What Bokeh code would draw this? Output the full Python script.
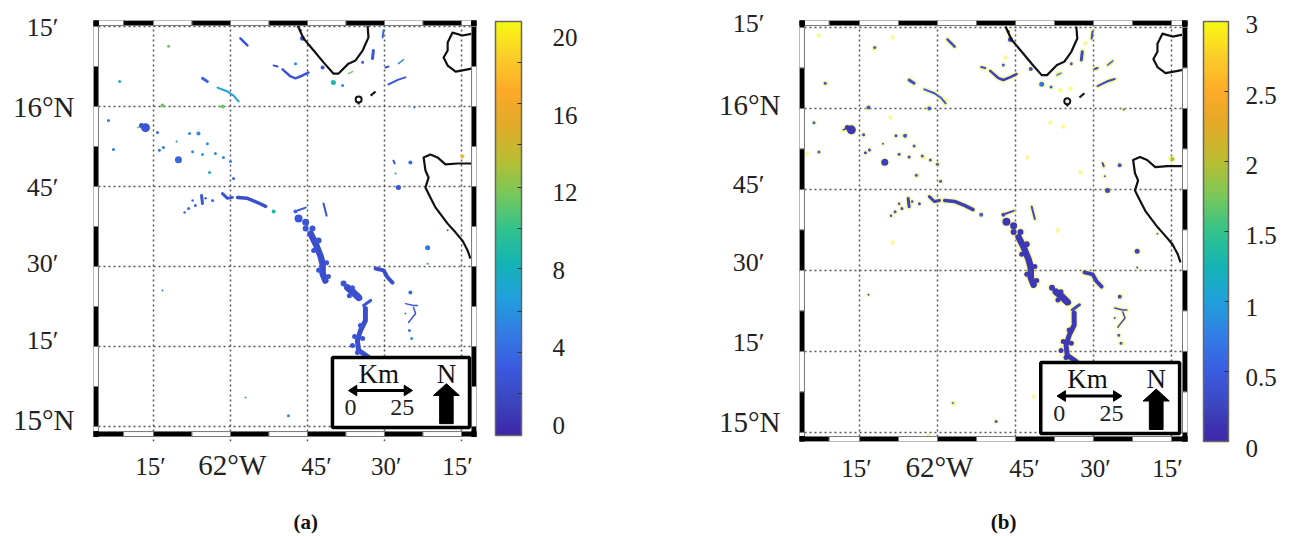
from bokeh.plotting import figure
from bokeh.layouts import row
from bokeh.models import (ColorBar, ColumnDataSource, FixedTicker, Grid, LinearAxis,
                          LinearColorMapper, Range1d)
from bokeh.core.properties import value
from bokeh.embed import file_html
from bokeh.resources import INLINE

SERIF = "Liberation Serif"

# ---------- coastlines (lon, lat) ----------
coast1_lon = [-61.782,-61.763,-61.730,-61.698,-61.666,-61.649,-61.617,-61.594,-61.571,-61.552,-61.555]
coast1_lat = [16.253,16.213,16.175,16.138,16.103,16.103,16.134,16.144,16.175,16.216,16.253]
coast2_lon = [-61.214,-61.247,-61.279,-61.295,-61.295,-61.308,-61.295,-61.269,-61.230,-61.214]
coast2_lat = [16.228,16.222,16.231,16.200,16.175,16.153,16.128,16.109,16.116,16.119]
coast3_lon = [-61.217,-61.263,-61.302,-61.328,-61.351,-61.373,-61.367,-61.357,-61.367,-61.351,-61.334,-61.295,-61.269,-61.247,-61.230,-61.221]
coast3_lat = [15.822,15.822,15.819,15.841,15.850,15.841,15.800,15.778,15.747,15.716,15.684,15.634,15.606,15.581,15.550,15.525]
islet_lon = [-61.545,-61.529]
islet_lat = [16.034,16.047]
ring_lon = [-61.584]
ring_lat = [16.022]

# ---------- elongated features ----------
streak_lon = [
 [-61.968,-61.945],[-61.860,-61.847],[-61.831,-61.805,-61.789,-61.766,-61.747],[-62.091,-62.075],
 [-62.042,-62.010,-61.990,-61.974],[-62.026,-62.010,-61.994],[-61.977,-61.945,-61.912,-61.886],
 [-61.740,-61.724,-61.708,-61.701,-61.701,-61.692],[-61.782,-61.756],[-61.698,-61.688],
 [-61.620,-61.601,-61.584],[-61.545,-61.568],[-61.562,-61.562,-61.578,-61.588,-61.584,-61.555],
 [-61.529,-61.503,-61.490,-61.474],[-61.432,-61.406,-61.393],[-61.406,-61.399,-61.422],
 [-61.536,-61.539],[-61.503,-61.506],[-61.497,-61.487],[-61.455,-61.438],[-61.487,-61.455,-61.432],
 [-61.617,-61.604],[-61.471,-61.467],[-62.302,-62.286],[-62.094,-62.091]]
streak_lat = [
 [16.213,16.191],[16.128,16.125],[16.116,16.094,16.088,16.097,16.106],[16.088,16.078],
 [16.059,16.047,16.034,16.016],[15.728,15.713,15.716],[15.716,15.713,15.700,15.688],
 [15.603,15.572,15.534,15.509,15.478,15.456],[15.675,15.684],[15.697,15.659],
 [15.434,15.419,15.403],[15.394,15.378],[15.369,15.331,15.300,15.269,15.238,15.219],
 [15.494,15.488,15.466,15.450],[15.384,15.378,15.378],[15.372,15.353,15.325],
 [16.175,16.150],[16.238,16.216],[16.122,16.125],[16.134,16.147],[16.069,16.084,16.091],
 [16.103,16.109],[15.831,15.822],[15.934,15.941],[15.722,15.697]]
streak_a = [3,3,3,4,7,3,2.5,2.5,3,3,2.5,3,2.5,2.5,3,3,3,4,3,6,3,12,3,12,3]
streak_b = [.3,.3,.2,.35,.5,.2,.2,.15,.3,.3,.15,.3,.15,.2,.3,.3,.3,.35,.3,.6,.3,.8,.3,.2,.25]
streak_w = [2.5,2,2.5,3,2,3,3.5,6.5,2,2,7,3,5,4,1.5,1.5,3,2,2,1.5,2,1.5,2,1.5,3]

# ---------- compact features ----------
spot_lon = [-61.416,-61.419,-61.412,-61.432,-61.360,-61.360,-61.295,-61.571,-61.701,-61.766,-61.773,-61.789,
 -61.666,-61.636,-61.403,-61.416,-61.464,-61.455,-61.247,-62.276,-62.237,-62.396,-62.380,-62.360,-62.231,
 -62.218,-62.169,-62.133,-62.104,-62.075,-62.175,-62.123,-62.091,-62.049,-62.023,-62.000,-62.068,-61.990,
 -62.221,-62.026,-62.201,-62.114,-62.136,-62.058,-61.860,-61.789,-61.756,-61.779,-61.812,-61.951,-62.221,
 -61.756,-61.734,-61.714,-61.730,-61.688,-61.714,-61.682,-61.633,-61.604,-61.614,-61.578,-61.578,-61.597,
 -61.571,-61.604,-61.588,-62.123,-62.149,-62.081,-62.289]
spot_lat = [15.419,15.300,15.275,15.353,15.559,15.509,15.613,16.138,16.122,16.213,16.238,16.134,
 16.075,16.066,15.997,15.825,15.791,15.747,15.844,15.934,15.919,15.956,15.866,16.078,15.863,
 15.872,15.834,15.916,15.916,15.884,15.891,15.859,15.850,15.853,15.841,15.828,15.794,15.775,
 16.003,16.000,16.188,15.691,15.681,15.706,15.672,15.672,15.619,15.650,15.034,15.091,15.425,
 15.638,15.619,15.581,15.550,15.512,15.488,15.469,15.447,15.434,15.409,15.400,15.316,15.281,
 15.275,15.253,15.231,15.706,15.669,15.713,15.941]
spot_a = [4,5,6,5,5,5,4,3,3,3,3,6,9,6,4,4,6,3,18,3,4,5,5,8,5,5,4,6,6,6,6,6,7,6,6,6,8,4,12,12,12,4,4,4,9,4,3,3,6,7,5,
 3,3,3,3,3,3,3,3,3,3,3,3,3,3,3,3,4,4,4,3]
spot_b = [.3,.4,.4,.3,.25,.4,.4,.4,.4,.3,.4,.45,.7,.45,.3,.4,.45,.25,1.9,.15,.3,.5,.5,.45,.3,.3,.2,.3,.5,.45,.4,.45,.25,.45,.5,.45,.5,.4,
 .5,.5,.5,.3,.45,.3,.5,.3,.15,.15,.5,.6,.35,
 .15,.15,.15,.15,.15,.15,.15,.15,.15,.15,.15,.15,.15,.15,.15,.15,.3,.3,.3,.15]
spot_size = [4,3,3,2,5,2,2,3,4,5,3,3,5,3,2,4,2,5,4,9,3,3,3,3,3,3,7,3,4,3,2,3,3,3,3,3,3,3,4,4,3,3,3,3,4,4,6,8,3,2,2,
 7,6,6,5,5,5,5,6,5,5,4,5,5,5,5,5,2.5,2.5,2.5,5]

# ---------- pale high-value specks seen in panel (b) ----------
speck_lon = [-62.356,-62.381,-62.205,-62.144,-62.151,-62.420,-62.064,-62.103,-62.029,-61.974,-62.167,-62.045,-62.000,
 -61.526,-61.446,-61.446,-61.612,-61.253,-61.542,-61.712,-61.782,-61.606,-61.574,-61.615,-61.596,-61.638,
 -61.526,-61.692,-61.679,-61.413,-61.407,-61.949,-62.029,-62.144]
speck_lat = [16.077,16.225,16.185,16.219,15.972,15.861,15.793,15.914,16.003,16.025,15.833,15.849,15.830,
 16.201,16.139,16.086,16.108,15.846,15.802,15.849,16.157,16.056,16.062,15.623,15.944,15.957,
 15.491,15.111,15.463,15.423,15.275,15.090,14.988,15.586]

# ---------- labels / ticks ----------
grid_lon = [-62.25,-62.0,-61.75,-61.5,-61.25]
grid_lat = [16.25,16.0,15.75,15.5,15.25,15.0]
lon_ticks = [-62.26,-61.721,-61.494,-61.263]
lon_text = ["15\u2032","45\u2032","30\u2032","15\u2032"]
lat_text = ["15\u2032","45\u2032","30\u2032","15\u2032"]
lat_ticks_a = [16.247,15.747,15.509,15.269]
lat_ticks_b = [16.262,15.765,15.525,15.278]
deg_lat_a = [15.997,15.019]
deg_lat_b = [16.012,15.031]
deg_lat_text = ["16\u00b0N","15\u00b0N"]
deg_lon = [-61.994]
deg_lon_text = ["62\u00b0W"]
cb_a_ticks = [.51,4.46,8.37,12.33,16.24,20.2]
cb_a_text = ["0","4","8","12","16","20"]
cb_a_minor = [2.13,4.21,6.29,8.47,10.5,12.58,14.76,16.84,18.9]
cb_b_ticks = [.458,.958,1.474,1.974,2.475,2.976]
cb_b_text = ["0.5","1","1.5","2","2.5","3"]
cb_b_minor = [.5,1.0,1.5,2.0,2.5]

# ---------- palette ----------
anchors = [(62,38,168),(60,70,190),(58,92,226),(50,125,228),(32,160,220),(20,180,180),
           (50,195,140),(120,200,90),(185,190,50),(225,170,40),(252,170,40),(250,205,40),(248,248,20)]
palette = []
for i in range(256):
    t = i/255*(len(anchors)-1)
    k = min(int(t), len(anchors)-2)
    f = t-k
    palette.append("#%02x%02x%02x" % tuple(round(anchors[k][c]*(1-f)+anchors[k+1][c]*f) for c in range(3)))


def checker(p, lon0, lon1, lat0, lat1):
    lon_b = [lon0,-62.347,-62.25,-62.125,-62.0,-61.875,-61.75,-61.625,-61.5,-61.375,-61.25,lon1]
    lat_b = [lat1,16.25,16.125,16.0,15.875,15.75,15.625,15.5,15.375,15.25,15.125,15.0,lat0]
    dx, dy = .0160, .0155
    for i in range(len(lon_b)-1):
        a, b = lon_b[i], lon_b[i+1]
        top_col = "white" if i % 2 == 0 else "black"
        bot_col = "black" if i % 2 == 0 else "white"
        p.quad(left=a, right=b, top=lat1, bottom=lat1-dy, fill_color=top_col, line_color="#777", line_width=1)
        p.quad(left=a, right=b, top=lat0+dy, bottom=lat0, fill_color=bot_col, line_color="#777", line_width=1)
    for i in range(len(lat_b)-1):
        a, b = lat_b[i], lat_b[i+1]
        left_col = "black" if i % 2 == 0 else "white"
        right_col = "black" if (i % 2 == 1 or i == 0) else "white"
        p.quad(left=lon0, right=lon0+dx, top=a, bottom=b, fill_color=left_col, line_color="#777", line_width=1)
        p.quad(left=lon1-dx, right=lon1, top=a, bottom=b, fill_color=right_col, line_color="#777", line_width=1)
    for l in (lon0, lon1-dx):
        for b in (lat0, lat1-dy):
            p.quad(left=l, right=l+dx, top=b+dy, bottom=b, fill_color="black", line_color="black")


def key(p):
    p.quad(left=-61.669, right=-61.224, top=15.216, bottom=14.997, fill_color="white",
           line_color="black", line_width=3.5)
    p.line(x=[-61.605,-61.420], y=[15.1125,15.1125], line_color="black", line_width=3)
    p.patches(xs=[[-61.617,-61.590,-61.590],[-61.409,-61.436,-61.436]],
              ys=[[15.1125,15.129,15.096],[15.1125,15.129,15.096]], fill_color="black", line_color="black")
    p.patch(x=[-61.299,-61.257,-61.277,-61.277,-61.321,-61.321,-61.341],
            y=[15.134,15.097,15.097,15.009,15.009,15.097,15.097], fill_color="black", line_color="black")
    p.text(x=[-61.519,-61.299], y=[15.165,15.165], text=["Km","N"], text_font=value(SERIF),
           text_font_size="27px", text_align="center", text_baseline="middle", text_color="#111")
    p.text(x=[-61.610,-61.442], y=[15.059,15.059], text=["0","25"], text_font=value(SERIF),
           text_font_size="24px", text_align="center", text_baseline="middle", text_color="#222")


def axis(p, side, ticks, texts, size, standoff, style="normal", color="#222"):
    ax = LinearAxis(ticker=FixedTicker(ticks=ticks), major_label_overrides=dict(zip(ticks, texts)),
                    axis_line_color=None, major_tick_line_color=None, minor_tick_line_color=None,
                    major_tick_out=0, major_tick_in=0, minor_tick_out=0, minor_tick_in=0,
                    major_label_text_font=SERIF, major_label_text_font_size=size,
                    major_label_text_font_style=style, major_label_text_color=color,
                    major_label_standoff=standoff)
    p.add_layout(ax, side)


def panel(width, left, right, xr, yr, map_bottom, high, values_streak, values_spot, lat_ticks, deg_lat, halo,
          cb_x, cb_y, cb_h, cb_w, cb_ticks, cb_text, cb_minor, cb_standoff,
          letter, letter_lon, lon_standoff, deg_standoff, letter_standoff):
    p = figure(width=width, height=536, x_range=Range1d(*xr), y_range=Range1d(*yr),
               toolbar_location=None, output_backend="svg", x_axis_location=None, y_axis_location=None,
               min_border_left=left, min_border_right=right, min_border_top=20, min_border_bottom=95,
               outline_line_color=None)
    p.grid.visible = False
    axis(p, "below", lon_ticks, lon_text, "25px", lon_standoff)
    axis(p, "below", deg_lon, deg_lon_text, "29px", deg_standoff)
    axis(p, "below", [letter_lon], [letter], "21px", letter_standoff, style="bold", color="#111")
    axis(p, "left", lat_ticks, lat_text, "26px", 35)
    axis(p, "left", deg_lat, deg_lat_text, "29px", -51)

    p.add_layout(Grid(dimension=0, ticker=FixedTicker(ticks=grid_lon), grid_line_color="#555",
                      grid_line_dash="2 3", grid_line_width=1.5))
    p.add_layout(Grid(dimension=1, ticker=FixedTicker(ticks=grid_lat), grid_line_color="#555",
                      grid_line_dash="2 3", grid_line_width=1.5))

    mapper = LinearColorMapper(palette=palette, low=0, high=high)
    streaks = ColumnDataSource(dict(x=streak_lon, y=streak_lat, v=values_streak, w=streak_w,
                                    h=[w+3 for w in streak_w]))
    spots = ColumnDataSource(dict(x=spot_lon, y=spot_lat, v=values_spot, s=spot_size,
                                  h=[s+3 for s in spot_size]))
    if halo:
        p.multi_line(xs="x", ys="y", source=streaks, line_width="h", line_color="#f4f22a", line_alpha=.4,
                     line_cap="round", line_join="round")
        p.scatter(x="x", y="y", size="h", source=spots, marker="circle", fill_color="#f4f22a",
                  fill_alpha=.3, line_color=None)
        p.scatter(x=speck_lon, y=speck_lat, size=4.5, marker="circle",
                  fill_color="#f4f22a", fill_alpha=.5, line_color=None)
    p.multi_line(xs="x", ys="y", source=streaks, line_width="w",
                 line_color={"field": "v", "transform": mapper}, line_cap="round", line_join="round")
    p.scatter(x="x", y="y", size="s", source=spots, marker="circle",
              fill_color={"field": "v", "transform": mapper}, line_color=None)

    for lo, la in [(coast1_lon, coast1_lat), (coast2_lon, coast2_lat), (coast3_lon, coast3_lat), (islet_lon, islet_lat)]:
        p.line(x=lo, y=la, line_color="#111", line_width=2.2, line_join="round")
    p.scatter(x=ring_lon, y=ring_lat, size=6, marker="circle", fill_color=None, line_color="#111", line_width=2)
    p.line(x=[ring_lon[0], ring_lon[0]], y=[ring_lat[0]-.008, ring_lat[0]-.016], line_color="#111", line_width=2)

    checker(p, xr[0], xr[1], map_bottom, yr[1])
    key(p)

    if high == 3:
        # the "0" of the second scale sits a little below the end of the bar
        zero = ColorBar(color_mapper=LinearColorMapper(palette=["#ffffff", "#ffffff"], low=0, high=1),
                        location=(cb_x, -7), width=cb_w, height=30, padding=0, margin=0,
                        ticker=FixedTicker(ticks=[0]), major_label_overrides={0: "0"},
                        major_tick_line_color=None, minor_tick_line_color=None, bar_line_color=None,
                        border_line_color=None, background_fill_color=None,
                        major_label_text_font=SERIF, major_label_text_font_size="25px",
                        major_label_text_color="#222", label_standoff=cb_standoff)
        p.add_layout(zero)
    cb = ColorBar(color_mapper=mapper, location=(cb_x, cb_y), width=cb_w, height=cb_h, padding=0, margin=0,
                  ticker=FixedTicker(ticks=cb_ticks, minor_ticks=cb_minor),
                  major_label_overrides=dict(zip(cb_ticks, cb_text)),
                  major_tick_line_color=None, minor_tick_line_color="#333", minor_tick_in=4, minor_tick_out=0,
                  bar_line_color="#666", bar_line_width=1.5, border_line_color=None, background_fill_color=None,
                  major_label_text_font=SERIF, major_label_text_font_size="25px",
                  major_label_text_color="#222", label_standoff=cb_standoff)
    p.add_layout(cb)
    return p


pa = panel(648, 93, 172, (-62.4448, -61.2013), (14.9532, 16.2688), 14.96875, 21, streak_a, spot_a, lat_ticks_a, deg_lat_a, False,
           402, 6, 414, 26, cb_a_ticks, cb_a_text, cb_a_minor, 31, "(a)", -61.756, 11, -34, 26)
pb = panel(642, 151, 103, (-62.4423, -61.1987), (14.972, 16.2716), 14.972, 3, streak_b, spot_b, lat_ticks_b, deg_lat_b, True,
           404, 0, 420, 25, cb_b_ticks, cb_b_text, cb_b_minor, 17, "(b)", -61.788, 13, -34, 24)

open("out.html", "w").write(file_html(row(pa, pb), INLINE))
